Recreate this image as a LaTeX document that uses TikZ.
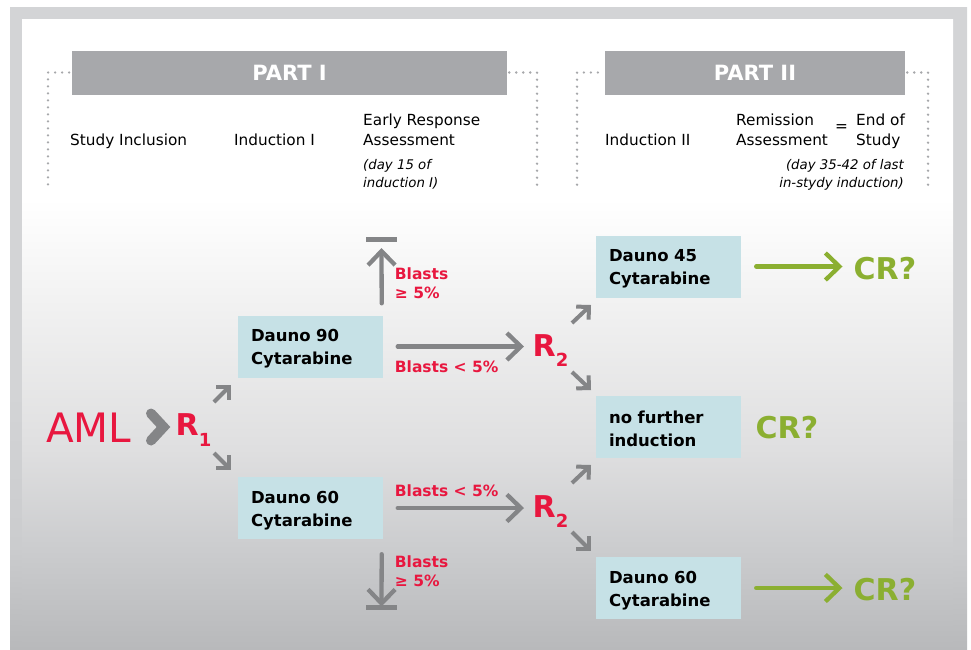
\documentclass[tikz,border=0pt]{standalone}
\usepackage{fontspec}
\setmainfont{DejaVu Sans}
\usetikzlibrary{arrows.meta}
\definecolor{frameg}{HTML}{D3D4D6}
\definecolor{botg}{HTML}{B8B9BB}
\definecolor{shA}{HTML}{CBCCCE}
\definecolor{shB}{HTML}{DFDFE0}
\definecolor{shC}{HTML}{F2F2F2}
\definecolor{barg}{HTML}{A7A8AB}
\definecolor{arrg}{HTML}{848587}
\definecolor{boxb}{HTML}{C6E1E6}
\definecolor{redc}{HTML}{E8173F}
\definecolor{grn}{HTML}{8BAF31}
\pgfdeclareverticalshading{panelsh}{100bp}{color(0bp)=(botg); color(25bp)=(botg); color(32.9bp)=(shA); color(40.9bp)=(shB); color(52.8bp)=(shC); color(60.7bp)=(white); color(100bp)=(white)}
\pgfdeclareverticalshading{framesh}{100bp}{color(0bp)=(botg); color(25bp)=(botg); color(33bp)=(shA); color(45bp)=(frameg); color(100bp)=(frameg)}
\begin{document}
\begin{tikzpicture}[x=1pt,y=-1pt,
  hdr/.style={font=\fontsize{15.3}{20}\selectfont, inner sep=0pt, anchor=base west},
  note/.style={font=\fontsize{13.3}{18}\selectfont\itshape, inner sep=0pt},
  partbar/.style={fill=barg, minimum width=#1, minimum height=44pt, inner sep=0pt, text=white, font=\bfseries\fontsize{21}{21}\selectfont},
  dots/.style={draw=barg, line width=2.6pt, line cap=round, dash pattern=on 0pt off 7pt},
  bx/.style={fill=boxb, minimum height=62pt, text width=119pt, inner xsep=13pt, inner ysep=0pt, align=left, font=\bfseries\fontsize{16.5}{23}\selectfont},
  lab/.style={text=redc, font=\bfseries\fontsize{15.5}{19}\selectfont, inner sep=0pt, anchor=base west},
  rnode/.style={text=redc, font=\bfseries\fontsize{30}{30}\selectfont, inner sep=0pt, anchor=base west},
  bigarr/.style={draw=arrg, line width=4.3pt, line cap=round, -{Straight Barb[length=14pt,width=27pt,line width=4.3pt]}},
  smarr/.style={draw=arrg, line width=4pt, -{Straight Barb[length=9pt,width=18pt,line width=4pt]}},
  grnarr/.style={draw=grn, line width=4.3pt, line cap=round, -{Straight Barb[length=14pt,width=27pt,line width=4.3pt]}},
  cr/.style={text=grn, font=\bfseries\fontsize{30}{30}\selectfont, inner sep=0pt, anchor=base west},
  stopbar/.style={draw=arrg, line width=4.5pt},
]
\useasboundingbox (0,0) rectangle (971,649);
\shade[shading=framesh] (10,7) rectangle (967,649);
\shade[shading=panelsh] (22,19) rectangle (953,649);

% header bars
\node[partbar=435pt] (p1) at (289.5,72.5) {PART I};
\node[partbar=300pt] (p2) at (755,72.5) {PART II};
\coordinate (c1) at (48,72.5);
\coordinate (c2) at (537,72.5);
\coordinate (c3) at (577,72.5);
\coordinate (c4) at (928,72.5);
\draw[dots] ([xshift=-2.7pt]p1.west) -- (c1) -- (48,188);
\draw[dots] ([xshift=2pt]p1.east) -- (c2) -- (537,188);
\draw[dots] ([xshift=-7pt]p2.west) -- (c3) -- (577,188);
\draw[dots] ([xshift=2pt]p2.east) -- (c4) -- (928,188);

% header texts
\node[hdr] (si) at (70,145) {Study Inclusion};
\node[hdr] (i1) at (234,145) {Induction I};
\node[hdr] (er1) at (363,125) {Early Response};
\node[hdr] (er2) at (363,145) {Assessment};
\node[note,anchor=base west] (n1a) at (363,169) {(day 15 of};
\node[note,anchor=base west] (n1b) at (363,187) {induction I)};
\node[hdr] (i2) at (605,145) {Induction II};
\node[hdr] (ra1) at (736,125) {Remission};
\node[hdr] (ra2) at (736,145) {Assessment};
\node[font=\fontsize{15.3}{15}\selectfont, inner sep=0pt] (eq) at (841.5,128.5) {=};
\node[hdr] (es1) at (856,125) {End of};
\node[hdr] (es2) at (856,145) {Study};
\node[note,anchor=base east] (n2a) at (904,169) {(day 35-42 of last};
\node[note,anchor=base east] (n2b) at (904,187) {in-stydy induction)};

% left part
\node[text=redc, font=\fontsize{40.5}{40}\selectfont, inner sep=0pt, anchor=base west] (aml) at (46,442) {AML};
\draw[draw=arrg, line width=10pt, line cap=round, line join=miter] (151,413.5) -- (163.5,427) -- (151,440.5);
\node[rnode] (r1) at (175.5,435) {R\raisebox{-11pt}{\fontsize{18}{18}\selectfont 1}};
\coordinate (r1a) at (214,402); \coordinate (r1b) at (231,385);
\coordinate (r1c) at (214,453); \coordinate (r1d) at (231,470);
\draw[smarr] (r1a) -- (r1b);
\draw[smarr] (r1c) -- (r1d);

% induction I boxes
\node[bx] (d90) at (310.5,346.5) {\rule{0pt}{17pt}Dauno 90\\Cytarabine};
\node[bx] (d60) at (310.5,508) {\rule{0pt}{17pt}Dauno 60\\Cytarabine};

% R2 nodes
\node[rnode] (r2a) at (532.5,356) {R\raisebox{-10pt}{\fontsize{18}{18}\selectfont 2}};
\node[rnode] (r2b) at (532.5,517) {R\raisebox{-10pt}{\fontsize{18}{18}\selectfont 2}};
\coordinate (r2ain) at (r2a.west |- d90.east);
\coordinate (r2bin) at (r2b.west |- d60.east);
\draw[bigarr] ([xshift=14.5pt]d90.east) -- ([xshift=-8.5pt]r2ain);
\draw[bigarr] ([xshift=14.5pt]d60.east) -- ([xshift=-8.5pt]r2bin);

% up / down arrows with stop bars
\coordinate (tb) at (381.5,239.5);
\coordinate (bb) at (381.5,607.5);
\draw[stopbar] ([xshift=-15.5pt]tb) -- ([xshift=15.5pt]tb);
\draw[stopbar] ([xshift=-15.5pt]bb) -- ([xshift=15.5pt]bb);
\draw[bigarr] ([xshift=-1.5pt,yshift=12pt]d90.north east) -- ([yshift=-8.5pt]tb);
\draw[bigarr] ([xshift=-1.5pt,yshift=-15pt]d60.south east) -- ([yshift=1pt]bb);

% red labels
\node[lab] (l1a) at (394.7,279) {Blasts};
\node[lab] (l1b) at (394.7,298) {≥ 5\%};
\node[lab] (l2) at (394.7,372) {Blasts < 5\%};
\node[lab] (l3) at (394.7,496) {Blasts < 5\%};
\node[lab] (l4a) at (394.7,567) {Blasts};
\node[lab] (l4b) at (394.7,586) {≥ 5\%};

% R2 small arrows
\coordinate (a1) at (572,323); \coordinate (a2) at (591,305);
\coordinate (a3) at (572,372); \coordinate (a4) at (591,390);
\coordinate (a5) at (572,483); \coordinate (a6) at (591,465);
\coordinate (a7) at (572,532); \coordinate (a8) at (591,551);
\draw[smarr] (a1) -- (a2);
\draw[smarr] (a3) -- (a4);
\draw[smarr] (a5) -- (a6);
\draw[smarr] (a7) -- (a8);

% induction II boxes
\node[bx] (d45) at (668.5,266.5) {\rule{0pt}{17pt}Dauno 45\\Cytarabine};
\node[bx] (nf) at (668.5,427) {\rule{0pt}{17pt}no further\\induction};
\node[bx] (d60b) at (668.5,588) {\rule{0pt}{17pt}Dauno 60\\Cytarabine};

% CR
\node[cr] (cr1) at (853.5,279) {CR?};
\node[cr] (cr2) at (755.5,438) {CR?};
\node[cr] (cr3) at (853.5,600) {CR?};
\coordinate (cr1in) at (cr1.west |- d45.east);
\coordinate (cr3in) at (cr3.west |- d60b.east);
\draw[grnarr] ([xshift=15pt]d45.east) -- ([xshift=-11pt]cr1in);
\draw[grnarr] ([xshift=15pt]d60b.east) -- ([xshift=-11pt]cr3in);
\end{tikzpicture}
\end{document}
